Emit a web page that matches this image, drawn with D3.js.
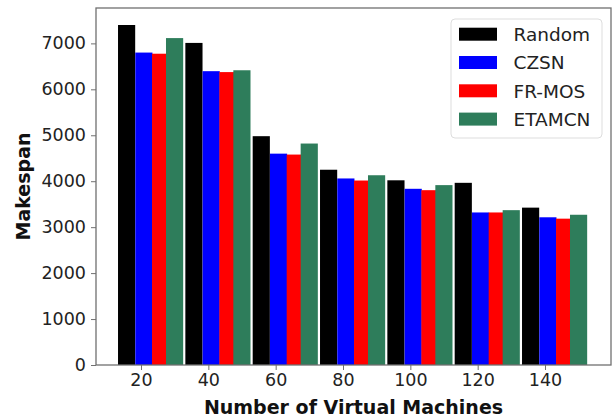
<!DOCTYPE html>
<html>
<head>
<meta charset="utf-8">
<script src="https://cdn.jsdelivr.net/npm/d3@7"></script>
<style>
  body { margin: 0; background: #fff; }
  svg { display: block; font-family: "DejaVu Sans", sans-serif; }
  .tick text { fill: #222; }
</style>
</head>
<body>
<svg id="chart"></svg>
<script>
const vmCounts = [20, 40, 60, 80, 100, 120, 140];
const seriesNames = ["Random", "CZSN", "FR-MOS", "ETAMCN"];
const seriesColors = ["#000000", "#0000ff", "#ff0000", "#2e7d5b"];

const random = [7400, 7010, 4980, 4250, 4020, 3965, 3425];
const czsn   = [6800, 6395, 4600, 4060, 3835, 3320, 3215];
const frmos  = [6775, 6375, 4580, 4015, 3805, 3320, 3185];
const etamcn = [7115, 6415, 4820, 4130, 3915, 3370, 3270];

const seriesValues = [random, czsn, frmos, etamcn];
const yTicks = [0, 1000, 2000, 3000, 4000, 5000, 6000, 7000];

const width = 614;
const height = 419;
const margin = { top: 8, right: 3, bottom: 54, left: 96 };

// bar offsets from the tick, in x units (bars overlap a little, like the original)
const BAR_OFFSETS = [-6.83, -1.7, 3.27, 7.42];
const BAR_W = 5.1;

const svg = d3.select("#chart")
  .attr("width", width)
  .attr("height", height);

const x = d3.scaleLinear()
  .domain([6.63, 159.6])
  .range([margin.left, width - margin.right]);

const y = d3.scaleLinear()
  .domain([0, 7770])
  .range([height - margin.bottom, margin.top]);

// bars
seriesValues.forEach((vals, s) => {
  svg.append("g")
    .selectAll("rect")
    .data(vals)
    .enter()
    .append("rect")
    .attr("x", (d, i) => x(vmCounts[i] + BAR_OFFSETS[s]))
    .attr("width", x(BAR_W) - x(0))
    .attr("y", d => y(d))
    .attr("height", d => y(0) - y(d))
    .attr("fill", seriesColors[s]);
});

// axes
const xAxis = svg.append("g")
  .attr("transform", `translate(0,${height - margin.bottom})`)
  .call(d3.axisBottom(x).tickValues(vmCounts).tickFormat(d3.format("d")).tickSize(5).tickPadding(4));

const yAxis = svg.append("g")
  .attr("transform", `translate(${margin.left},0)`)
  .call(d3.axisLeft(y).tickValues(yTicks).tickFormat(d3.format("d")).tickSize(5).tickPadding(5));

[xAxis, yAxis].forEach(a => {
  a.selectAll("text").attr("font-size", "17.5px").attr("font-family", "DejaVu Sans");
  a.selectAll("line").attr("stroke", "#707070");
  a.select(".domain").remove();
});

// frame
svg.append("rect")
  .attr("x", margin.left)
  .attr("y", margin.top)
  .attr("width", width - margin.right - margin.left)
  .attr("height", height - margin.bottom - margin.top)
  .attr("fill", "none")
  .attr("stroke", "#707070")
  .attr("stroke-width", 1.3);

// axis titles
svg.append("text")
  .attr("x", (margin.left + width - margin.right) / 2)
  .attr("y", 414)
  .attr("text-anchor", "middle")
  .attr("font-size", "19px")
  .attr("font-weight", "bold")
  .attr("fill", "#111")
  .text("Number of Virtual Machines");

svg.append("text")
  .attr("transform", `translate(30,${(margin.top + height - margin.bottom) / 2}) rotate(-90)`)
  .attr("text-anchor", "middle")
  .attr("font-size", "19px")
  .attr("font-weight", "bold")
  .attr("fill", "#111")
  .text("Makespan");

// legend
const legend = svg.append("g").attr("transform", "translate(451,19)");

legend.append("rect")
  .attr("width", 151)
  .attr("height", 119)
  .attr("rx", 4)
  .attr("fill", "#fff")
  .attr("fill-opacity", 0.8)
  .attr("stroke", "#dddddd");

const item = legend.selectAll("g.item")
  .data(seriesNames)
  .enter()
  .append("g")
  .attr("class", "item")
  .attr("transform", (d, i) => `translate(8,${8.7 + i * 28.3})`);

item.append("rect")
  .attr("width", 38)
  .attr("height", 13)
  .attr("fill", (d, i) => seriesColors[i]);

item.append("text")
  .attr("x", 54.5)
  .attr("y", 13.3)
  .attr("font-size", "18.5px")
  .attr("fill", "#222")
  .text(d => d);
</script>
</body>
</html>
